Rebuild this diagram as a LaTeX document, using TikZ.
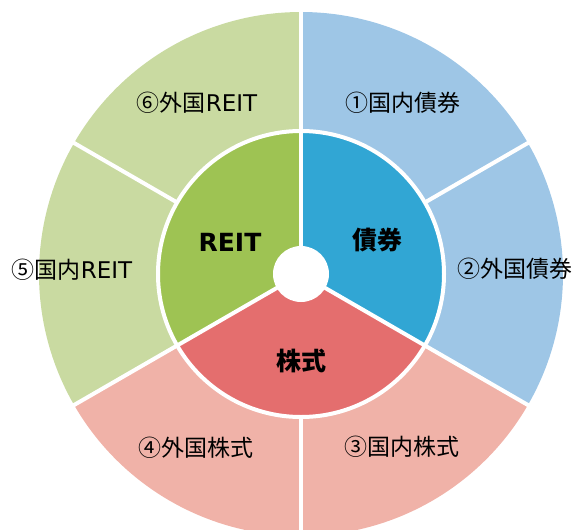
\documentclass[tikz,border=0pt]{standalone}
\usepackage{fontspec}
\usetikzlibrary{calc}
\setmainfont{Noto Sans CJK JP}
\newfontfamily\lat{DejaVu Sans}
\definecolor{bondOut}{RGB}{158,198,230}
\definecolor{bondIn}{RGB}{49,166,212}
\definecolor{stockOut}{RGB}{240,178,168}
\definecolor{stockIn}{RGB}{228,110,110}
\definecolor{reitOut}{RGB}{201,218,161}
\definecolor{reitIn}{RGB}{158,195,83}
\tikzset{
  outerlabel/.style={font=\fontsize{23}{27}\selectfont, text=black, inner sep=0pt},
  innerlabel/.style={font=\fontsize{25}{29}\selectfont\bfseries, text=black, inner sep=0pt},
  gap/.style={draw=white, line width=4pt},
}
\begin{document}
\begin{tikzpicture}[x=1pt,y=1pt]
\useasboundingbox (0,0) rectangle (576,-530);
\clip (0,0) rectangle (576,-530);
\coordinate (c) at (301,-274);
% outer ring sectors
\fill[bondOut]  (c) -- ++(90:262)  arc[start angle=90,  end angle=30,   radius=262] -- cycle;
\fill[bondOut]  (c) -- ++(30:262)  arc[start angle=30,  end angle=-30,  radius=262] -- cycle;
\fill[stockOut] (c) -- ++(-30:262) arc[start angle=-30, end angle=-90,  radius=262] -- cycle;
\fill[stockOut] (c) -- ++(-90:262) arc[start angle=-90, end angle=-150, radius=262] -- cycle;
\fill[reitOut]  (c) -- ++(210:262) arc[start angle=210, end angle=150,  radius=262] -- cycle;
\fill[reitOut]  (c) -- ++(150:262) arc[start angle=150, end angle=90,   radius=262] -- cycle;
% inner ring sectors
\fill[bondIn]  (c) -- ++(90:143)  arc[start angle=90,  end angle=-30,  radius=143] -- cycle;
\fill[stockIn] (c) -- ++(-30:143) arc[start angle=-30, end angle=-150, radius=143] -- cycle;
\fill[reitIn]  (c) -- ++(210:143) arc[start angle=210, end angle=90,   radius=143] -- cycle;
% white gaps
\draw[gap] (c) circle[radius=143];
\foreach \a in {90,-30,210} \draw[gap] (c) -- ++(\a:270);
\foreach \a in {30,-90,150} \draw[gap] ($(c)+(\a:143)$) -- ++(\a:127);
\fill[white] (c) circle[radius=28];
% labels
\node[outerlabel] (l1) at (403,-103) {①国内債券};
\node[outerlabel] (l2) at (515,-269) {②外国債券};
\node[outerlabel] (l3) at (402,-447) {③国内株式};
\node[outerlabel] (l4) at (196,-448) {④外国株式};
\node[outerlabel] (l5) at (72,-270) {⑤国内{\lat REIT}};
\node[outerlabel] (l6) at (197,-103) {⑥外国{\lat REIT}};
\node[innerlabel] (bond) at (377,-240) {債券};
\node[innerlabel] (stock) at (301,-361) {株式};
\node[innerlabel] (reit) at (230,-242) {\lat REIT};
\end{tikzpicture}
\end{document}
